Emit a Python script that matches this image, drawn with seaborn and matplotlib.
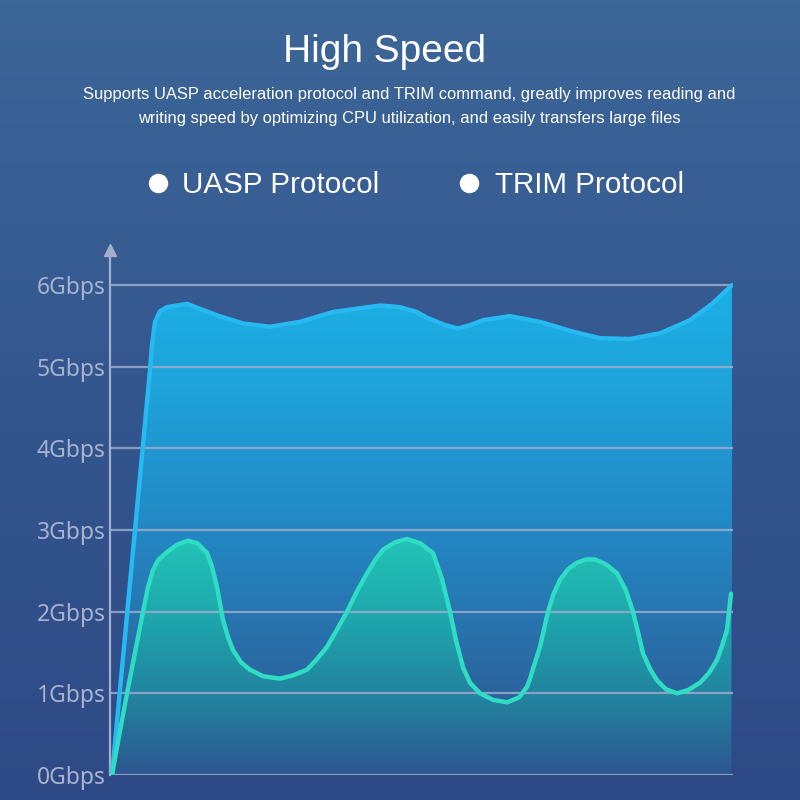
import numpy as np
import pandas as pd
import seaborn as sns
import matplotlib.pyplot as plt
from matplotlib.colors import LinearSegmentedColormap

# time axis (arbitrary units) and transfer speed in Gbps
uasp_t = [0, 2.3, 3.8, 4.0, 4.3, 4.8, 5.5, 7.5, 10.5, 13.1, 15.8, 18.8, 22.1, 26.8, 28.8,
          30.5, 31.5, 33.3, 34.6, 35.8, 37.1, 39.8, 42.8, 46.1, 48.8, 51.8, 54.8, 57.8, 60.1, 62.0]
uasp_speed = [0, 3.0, 4.96, 5.27, 5.55, 5.68, 5.73, 5.77, 5.63, 5.53, 5.49, 5.55, 5.67, 5.75, 5.73,
              5.67, 5.60, 5.51, 5.47, 5.51, 5.57, 5.62, 5.55, 5.43, 5.35, 5.34, 5.41, 5.57, 5.78, 6.0]

trim_t = [0, 0.8, 1.5, 2.3, 3.1, 3.6, 4.1, 4.6, 5.5, 6.5, 7.6, 8.5, 9.5, 10.0, 10.5, 11.1, 11.6,
          12.1, 12.9, 13.8, 15.1, 16.8, 18.1, 19.5, 20.5, 21.5, 22.5, 23.5, 24.5, 25.5, 26.3,
          27.1, 28.3, 29.5, 30.8, 32.1, 33.0, 33.8, 34.4, 35.1, 35.8, 36.8, 38.1, 39.5, 40.7,
          41.5, 41.8, 42.1, 42.8, 43.6, 44.1, 44.8, 45.6, 46.5, 47.4, 48.3, 49.4, 50.5, 51.4,
          52.1, 52.6, 53.1, 53.8, 54.5, 55.4, 56.5, 57.6, 58.8, 59.7, 60.5, 61.0, 61.5, 61.9]
trim_speed = [0, 0.54, 1.0, 1.5, 2.0, 2.30, 2.51, 2.63, 2.73, 2.82, 2.87, 2.84, 2.72, 2.55, 2.30,
              1.90, 1.69, 1.53, 1.38, 1.29, 1.21, 1.18, 1.22, 1.29, 1.42, 1.57, 1.78, 2.0, 2.25,
              2.47, 2.63, 2.76, 2.85, 2.89, 2.84, 2.72, 2.40, 2.0, 1.65, 1.32, 1.13, 1.0, 0.92,
              0.89, 0.95, 1.08, 1.18, 1.30, 1.57, 2.0, 2.20, 2.39, 2.52, 2.60, 2.64, 2.64, 2.58,
              2.47, 2.26, 2.0, 1.75, 1.49, 1.30, 1.16, 1.05, 1.0, 1.04, 1.13, 1.25, 1.41, 1.58,
              1.78, 2.22]

ticks = [0, 1, 2, 3, 4, 5, 6]
tick_labels = ['0Gbps', '1Gbps', '2Gbps', '3Gbps', '4Gbps', '5Gbps', '6Gbps']

df = pd.concat([
    pd.DataFrame({'t': uasp_t, 'speed': uasp_speed, 'protocol': 'UASP Protocol'}),
    pd.DataFrame({'t': trim_t, 'speed': trim_speed, 'protocol': 'TRIM Protocol'}),
])

sns.set_theme(style='white')
plt.rcParams['font.family'] = ['Liberation Sans', 'DejaVu Sans']

fig = plt.figure(figsize=(8, 8), dpi=100)

# background gradient
bg = fig.add_axes([0, 0, 1, 1], zorder=-10)
bg_cmap = LinearSegmentedColormap.from_list('bg', ['#2e4a86', '#33568e', '#3d6698'])
bg.imshow(np.linspace(0, 1, 256).reshape(-1, 1), cmap=bg_cmap, origin='lower',
          aspect='auto', extent=[0, 1, 0, 1])
bg.set_xlim(0, 1)
bg.set_ylim(0, 1)
bg.axis('off')

fig.text(0.481, 0.935, 'High Speed', color='white', fontsize=28, ha='center', va='center')
fig.text(0.512, 0.882, 'Supports UASP acceleration protocol and TRIM command, greatly improves reading and',
         color='white', fontsize=11.9, ha='center', va='center')
fig.text(0.512, 0.852, 'writing speed by optimizing CPU utilization, and easily transfers large files',
         color='white', fontsize=11.9, ha='center', va='center')
bg.plot([0.1975, 0.586], [0.771, 0.771], 'o', color='white', markersize=13, linestyle='none')
fig.text(0.228, 0.769, 'UASP Protocol', color='white', fontsize=21.3, ha='left', va='center')
fig.text(0.619, 0.769, 'TRIM Protocol', color='white', fontsize=21.3, ha='left', va='center')

# chart area
ax = fig.add_axes([0.1375, 0.03125, 0.77875, 0.65625])
ax.set_facecolor('none')
ax.set_xlim(-0.2, 62.1)
ax.set_ylim(0, 6.43)

colors = {'UASP Protocol': '#27b9f2', 'TRIM Protocol': '#2fdcc4'}


def gradient_fill(x, y, stops, z):
    poly = ax.fill_between(x, 0, y, color='none', lw=0)
    cmap = LinearSegmentedColormap.from_list('g', stops)
    top = max(y)
    img = ax.imshow(np.linspace(0, 1, 256).reshape(-1, 1), cmap=cmap, origin='lower',
                    aspect='auto', extent=[min(x), max(x), 0, top], zorder=z)
    img.set_clip_path(poly.get_paths()[0], transform=ax.transData)


gradient_fill(uasp_t, uasp_speed,
              [(0, '#2d4f8c'), (0.22, '#2a6aa4'), (0.5, '#2388c4'), (0.8, '#1ea3da'), (1, '#1bb0e4')], 1)
gradient_fill(trim_t, trim_speed,
              [(0, '#2d5690'), (0.3, '#237f9e'), (0.65, '#1ea5ac'), (1, '#22c4b6')], 1.5)

sns.lineplot(data=df, x='t', y='speed', hue='protocol', palette=colors, sort=False,
             estimator=None, linewidth=3.2, legend=False, ax=ax, zorder=4,
             solid_joinstyle='round', solid_capstyle='round')

ax.set_yticks(ticks)
ax.set_yticklabels(tick_labels, family=['Noto Sans', 'DejaVu Sans'], fontsize=16.5, color='#a7b3cf')
ax.set_xticks([])
ax.set_xlabel('')
ax.set_ylabel('')
ax.tick_params(axis='y', length=0, pad=3)
ax.set_axisbelow(False)
ax.yaxis.grid(True, color='#9eaacb', linewidth=1.6, alpha=0.85)
ax.xaxis.grid(False)
for s in ['top', 'right', 'bottom']:
    ax.spines[s].set_visible(False)
ax.spines['left'].set_color('#a4afcb')
ax.spines['left'].set_linewidth(1.6)
ax.plot([-0.2], [6.43], marker='^', color='#a4afcb', markersize=9, clip_on=False, zorder=5)

fig.savefig('out.png', dpi=100)
